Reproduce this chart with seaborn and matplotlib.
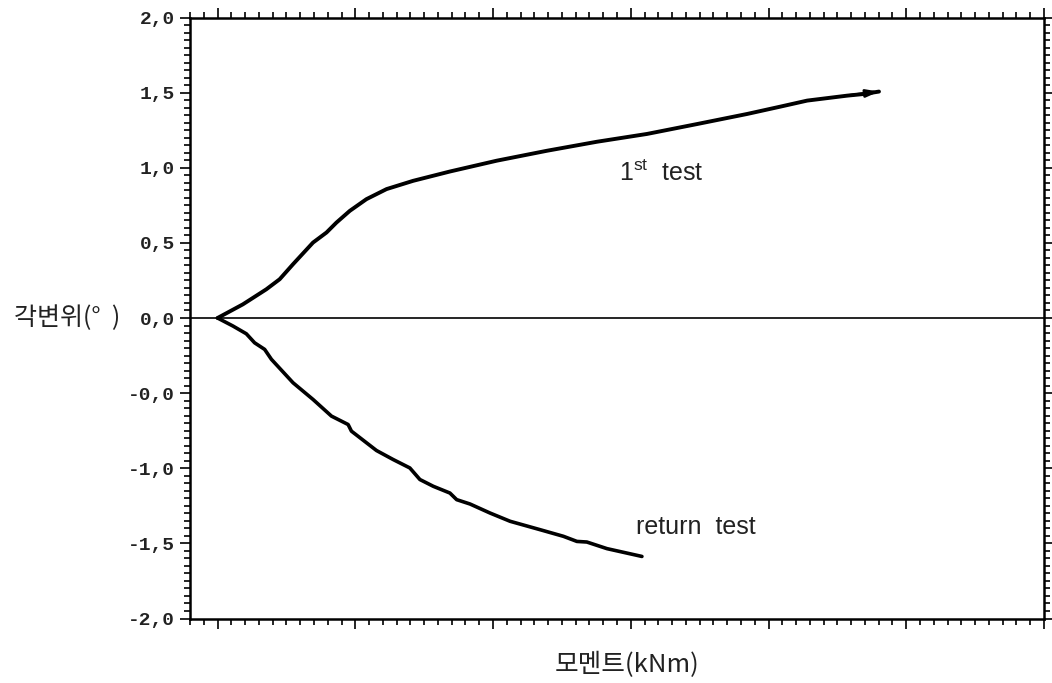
import matplotlib
matplotlib.use("Agg")
import matplotlib.pyplot as plt
from matplotlib.ticker import MultipleLocator, FixedLocator, NullFormatter
import seaborn as sns
import pandas as pd

# Moment (kNm) vs. angular displacement (deg)
first_moment = [0.0, 0.184, 0.354, 0.451, 0.548, 0.693, 0.791, 0.863, 0.960, 1.081,
                1.227, 1.420, 1.687, 2.027, 2.391, 2.754, 3.118, 3.482, 3.845, 4.087,
                4.281, 4.572, 4.693, 4.802]
first_angle = [0.0, 0.091, 0.191, 0.258, 0.358, 0.502, 0.569, 0.635, 0.713, 0.791,
               0.858, 0.913, 0.975, 1.047, 1.113, 1.173, 1.225, 1.291, 1.358, 1.407,
               1.447, 1.480, 1.491, 1.507]

return_moment = [0.0, 0.111, 0.209, 0.269, 0.342, 0.391, 0.548, 0.693, 0.827, 0.948,
                 0.972, 1.154, 1.275, 1.396, 1.469, 1.566, 1.687, 1.736, 1.833, 1.978,
                 2.124, 2.342, 2.511, 2.609, 2.681, 2.827, 3.081]
return_angle = [0.0, -0.053, -0.105, -0.165, -0.209, -0.275, -0.431, -0.542, -0.653, -0.709,
                -0.753, -0.882, -0.942, -0.998, -1.075, -1.120, -1.165, -1.209, -1.238, -1.298,
                -1.353, -1.409, -1.453, -1.487, -1.491, -1.535, -1.587]

y_ticks = [2.0, 1.5, 1.0, 0.5, 0.0, -0.5, -1.0, -1.5, -2.0]
y_tick_labels = ["2,0", "1,5", "1,0", "0,5", "0,0", "-0,0", "-1,0", "-1,5", "-2,0"]

first_label = r"1$^{\mathrm{st}}$  test"
return_label = "return  test"
x_label = "모멘트(kNm)"
y_label = "각변위(°  )"

sns.set_theme(style="ticks")
plt.rcParams["font.family"] = ["Noto Sans CJK KR", "DejaVu Sans"]
plt.rcParams["mathtext.fontset"] = "custom"
plt.rcParams["mathtext.rm"] = "Liberation Sans"

fig = plt.figure(figsize=(10.52, 6.83), dpi=100)
ax = fig.add_axes([190 / 1052, 1 - 618.5 / 683, 854 / 1052, 601 / 683])

df_first = pd.DataFrame({"moment": first_moment, "angle": first_angle})
df_return = pd.DataFrame({"moment": return_moment, "angle": return_angle})

ax.axhline(0, color="black", lw=1.2, zorder=1)
sns.lineplot(data=df_first, x="moment", y="angle", sort=False, estimator=None,
             color="black", lw=2.8, ax=ax)
sns.lineplot(data=df_return, x="moment", y="angle", sort=False, estimator=None,
             color="black", lw=2.6, ax=ax)

# arrow head at the end of the first loading curve
ax.annotate("", xy=(first_moment[-1], first_angle[-1]),
            xytext=(first_moment[-3], first_angle[-3]),
            arrowprops=dict(arrowstyle="-|>,head_length=0.6,head_width=0.18",
                            color="black", lw=2.0, shrinkA=0, shrinkB=0))

ax.text(first_moment[-1] - 1.89, 0.909, first_label, family="Liberation Sans",
        fontsize=18, ha="left", va="baseline", color="#222222")
ax.text(return_moment[-1] - 0.04, -1.435, return_label, family="Liberation Sans",
        fontsize=18, ha="left", va="baseline", color="#222222")

ax.set_xlim(-0.2, 6.0)
ax.set_ylim(-2.0, 2.0)

ax.xaxis.set_major_locator(MultipleLocator(1.0))
ax.xaxis.set_minor_locator(MultipleLocator(0.1))
ax.xaxis.set_major_formatter(NullFormatter())
ax.yaxis.set_major_locator(FixedLocator(y_ticks))
ax.yaxis.set_minor_locator(MultipleLocator(0.05))
ax.set_yticklabels(y_tick_labels, family="Liberation Mono", fontsize=14,
                   fontweight="bold", color="#222222")

ax.tick_params(which="both", direction="out", top=True, right=True,
               bottom=True, left=True, color="black", width=1.2)
ax.tick_params(which="major", length=7, pad=4)
ax.tick_params(which="minor", length=4)
ax.tick_params(axis="y", which="both", right=True, labelright=False)

for side in ["left", "right", "top", "bottom"]:
    ax.spines[side].set_visible(True)
    ax.spines[side].set_linewidth(1.8)
    ax.spines[side].set_color("black")

ax.set_xlabel(x_label, fontsize=18.5, color="#222222")
ax.xaxis.set_label_coords(0.512, -0.077)
ax.xaxis.label.set_va("center")
ax.set_ylabel(y_label, fontsize=18, rotation=0, color="#222222")
ax.yaxis.label.set_ha("right")
ax.yaxis.label.set_va("center")
ax.yaxis.set_label_coords(-0.082, 0.5)

fig.savefig("out.png", dpi=100)
